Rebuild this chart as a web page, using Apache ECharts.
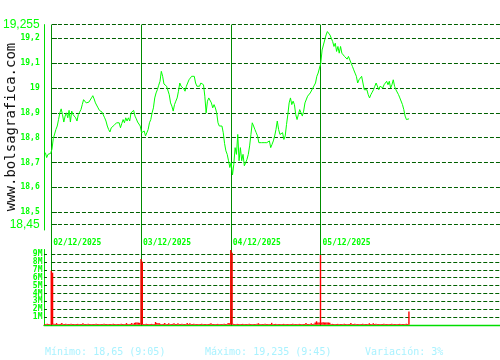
<!DOCTYPE html>
<html><head><meta charset="utf-8">
<script src="https://cdn.jsdelivr.net/npm/echarts@6/dist/echarts.min.js"></script>
<style>html,body{margin:0;padding:0;background:#fff}#c{width:500px;height:360px}</style>
</head><body><div id="c"></div>
<script>
// ---------- data ----------
const dates = ['02/12/2025', '03/12/2025', '04/12/2025', '05/12/2025'];
const SLOTS = 68; // intraday slots per session

const prePrice = [18.74, 18.72, 18.733, 18.737, 18.737];
const day1Price = [18.753, 18.796, 18.80, 18.833, 18.847, 18.873, 18.9, 18.916, 18.893, 18.863,
  18.887, 18.9, 18.88, 18.91, 18.863, 18.907, 18.893, 18.9, 18.88, 18.867,
  18.893, 18.903, 18.913, 18.933, 18.953, 18.96, 18.94, 18.947, 18.943, 18.95,
  18.96, 18.969, 18.956, 18.94, 18.94, 18.92, 18.91, 18.916, 18.903, 18.9,
  18.88, 18.867, 18.847, 18.833, 18.823, 18.84, 18.847, 18.849, 18.847, 18.86,
  18.867, 18.86, 18.84, 18.857, 18.873, 18.86, 18.88, 18.867, 18.88, 18.867,
  18.9, 18.907, 18.91, 18.887, 18.876, 18.863, 18.867, 18.847];
const day2Price = [18.82, 18.813, 18.827, 18.807, 18.82, 18.833, 18.86, 18.873, 18.9, 18.92,
  18.96, 18.98, 18.993, 19.011, 19.027, 19.067, 19.047, 19.016, 19.011, 19.007,
  19.0, 18.973, 18.94, 18.927, 18.907, 18.933, 18.947, 18.96, 18.987, 19.02,
  19.007, 19.0, 18.997, 18.987, 19.007, 19.02, 19.033, 19.04, 19.047, 19.053,
  19.047, 19.02, 19.007, 19.013, 19.007, 19.02, 19.024, 19.013, 18.967, 18.9,
  18.947, 18.96, 18.967, 18.94, 18.92, 18.933, 18.92, 18.9, 18.86, 18.847,
  18.84, 18.847, 18.82, 18.776, 18.747, 18.733, 18.707, 18.68];
const day3Price = [18.70, 18.65, 18.693, 18.76, 18.733, 18.813, 18.707, 18.76, 18.707, 18.733,
  18.687, 18.7, 18.713, 18.733, 18.767, 18.813, 18.86, 18.847, 18.833, 18.82,
  18.807, 18.78, 18.773, 18.78, 18.776, 18.78, 18.777, 18.78, 18.784, 18.787,
  18.76, 18.773, 18.787, 18.807, 18.833, 18.867, 18.833, 18.813, 18.807, 18.82,
  18.793, 18.807, 18.853, 18.893, 18.94, 18.96, 18.933, 18.947, 18.933, 18.893,
  18.873, 18.893, 18.913, 18.9, 18.887, 18.907, 18.94, 18.947, 18.967, 18.973,
  18.98, 18.987, 19.0, 19.007, 19.02, 19.047, 19.06, 19.08];
const day4Price = [19.1, 19.153, 19.173, 19.193, 19.213, 19.227, 19.235, 19.213, 19.22, 19.187,
  19.167, 19.18, 19.147, 19.167, 19.14, 19.167, 19.14, 19.133, 19.127, 19.12,
  19.116, 19.127, 19.133, 19.1, 19.087, 19.073, 19.06, 19.047, 19.02, 19.033,
  19.04, 19.047, 19.02, 18.993, 18.991, 18.993, 18.973, 18.96, 18.973, 18.983,
  18.993, 19.007, 19.02, 19.013, 18.993, 19.007, 19.007, 19.0, 19.013, 19.02,
  19.027, 19.013, 19.027, 19.0, 19.013, 19.033, 19.007, 18.993, 18.987, 18.973,
  18.96, 18.953, 18.933, 18.913, 18.887, 18.873, 18.867, 18.876];

const preVol = [0.1, 0.1, 0.12, 0.1, 0.1];
const day1Vol = [6.9, 6.65, 0.12, 0.1, 0.22, 0.1, 0.1, 0.12, 0.22, 0.1,
  0.1, 0.12, 0.1, 0.1, 0.1, 0.12, 0.1, 0.1, 0.1, 0.1,
  0.12, 0.1, 0.1, 0.1, 0.2, 0.1, 0.1, 0.1, 0.12, 0.1,
  0.1, 0.1, 0.1, 0.1, 0.12, 0.1, 0.1, 0.1, 0.1, 0.1,
  0.12, 0.1, 0.1, 0.1, 0.1, 0.1, 0.1, 0.12, 0.1, 0.1,
  0.1, 0.1, 0.1, 0.12, 0.1, 0.1, 0.1, 0.22, 0.1, 0.1,
  0.12, 0.22, 0.1, 0.25, 0.28, 0.28, 0.28, 0.25];
const day2Vol = [8.4, 8.05, 0.1, 0.1, 0.12, 0.1, 0.1, 0.1, 0.12, 0.1,
  0.1, 0.35, 0.22, 0.2, 0.2, 0.1, 0.1, 0.12, 0.22, 0.1,
  0.1, 0.2, 0.1, 0.1, 0.12, 0.2, 0.1, 0.1, 0.2, 0.1,
  0.1, 0.12, 0.1, 0.1, 0.1, 0.22, 0.1, 0.2, 0.1, 0.1,
  0.12, 0.1, 0.1, 0.1, 0.1, 0.1, 0.12, 0.1, 0.1, 0.1,
  0.1, 0.1, 0.12, 0.2, 0.1, 0.1, 0.1, 0.1, 0.12, 0.1,
  0.1, 0.1, 0.1, 0.12, 0.1, 0.1, 0.22, 0.2];
const day3Vol = [9.55, 9.2, 0.12, 0.1, 0.1, 0.12, 0.1, 0.1, 0.1, 0.12,
  0.1, 0.1, 0.1, 0.1, 0.12, 0.1, 0.1, 0.1, 0.1, 0.1,
  0.12, 0.2, 0.1, 0.1, 0.1, 0.1, 0.12, 0.1, 0.1, 0.1,
  0.1, 0.25, 0.1, 0.1, 0.12, 0.1, 0.1, 0.1, 0.1, 0.1,
  0.12, 0.1, 0.1, 0.1, 0.1, 0.1, 0.1, 0.12, 0.1, 0.1,
  0.1, 0.1, 0.12, 0.1, 0.1, 0.1, 0.1, 0.22, 0.1, 0.1,
  0.1, 0.2, 0.1, 0.12, 0.3, 0.45, 0.3, 0.3];
const day4Vol = [8.9, 0.3, 0.32, 0.3, 0.3, 0.28, 0.3, 0.25, 0.1, 0.12,
  0.1, 0.1, 0.1, 0.12, 0.1, 0.1, 0.1, 0.1, 0.12, 0.1,
  0.1, 0.1, 0.1, 0.22, 0.1, 0.1, 0.12, 0.1, 0.1, 0.1,
  0.1, 0.1, 0.12, 0.1, 0.1, 0.1, 0.1, 0.2, 0.1, 0.1,
  0.2, 0.1, 0.12, 0.1, 0.1, 0.1, 0.1, 0.1, 0.12, 0.1,
  0.1, 0.1, 0.1, 0.1, 0.12, 0.1, 0.1, 0.1, 0.1, 0.1,
  0.12, 0.1, 0.1, 0.1, 0.1, 0.12, 0.1, 1.7];

const priceTicks = [18.45, 18.5, 18.6, 18.7, 18.8, 18.9, 19.0, 19.1, 19.2, 19.255];
const volTicks = [1, 2, 3, 4, 5, 6, 7, 8, 9];

const minText = 'Mínimo: 18,65 (9:05)';
const maxText = 'Máximo: 19,235 (9:45)';
const varText = 'Variación: 3%';
const watermark = 'www.bolsagrafica.com';

// ---------- build ----------
const priceDays = [day1Price, day2Price, day3Price, day4Price];
const volDays = [day1Vol, day2Vol, day3Vol, day4Vol];
const priceData = prePrice.map((v, i) => [i - prePrice.length, v]);
priceDays.forEach((arr, d) => arr.forEach((v, i) => priceData.push([d * SLOTS + i, v])));
const volData = preVol.map((v, i) => [i - preVol.length, v]);
volDays.forEach((arr, d) => arr.forEach((v, i) => volData.push([d * SLOTS + i, v])));
const dayStarts = dates.map((_, d) => d * SLOTS);
const X_MIN = -5.5, X_MAX = 5 * SLOTS;

const GREEN = '#00ff00', AXIS = '#00dd00', DASH = '#006000', DAYLINE = '#008c00';
const pMin = priceTicks[0], pMax = priceTicks[priceTicks.length - 1];
const fmtNum = v => String(v).replace('.', ',');

const chart = echarts.init(document.getElementById('c'), null, {renderer: 'canvas'});
chart.setOption({
  animation: false,
  backgroundColor: '#ffffff',
  grid: [
    {left: 44, right: 0, top: 24.6, bottom: 135.3},
    {left: 44, right: 0, top: 249.5, bottom: 35.2},
    {left: 44, right: 0, top: 24.6, bottom: 34.5},
    {left: 44, right: 0, top: 24.6, bottom: 130}
  ],
  xAxis: [
    {type: 'value', gridIndex: 0, min: X_MIN, max: X_MAX, show: false},
    {type: 'value', gridIndex: 1, min: X_MIN, max: X_MAX, position: 'bottom',
      axisLine: {show: true, onZero: false, lineStyle: {color: AXIS, width: 1.3}},
      axisTick: {show: false}, axisLabel: {show: false}, splitLine: {show: false}},
    {type: 'value', gridIndex: 1, min: X_MIN, max: X_MAX, position: 'top',
      axisLine: {show: false}, axisTick: {show: false}, splitLine: {show: false},
      axisLabel: {show: true, customValues: dayStarts, align: 'left', margin: 3,
        padding: [0, 0, 0, 2],
        color: GREEN, fontFamily: 'DejaVu Sans Mono', fontWeight: 'bold', fontSize: 8,
        formatter: v => dates[Math.round(v / SLOTS)] || ''}},
    {type: 'value', gridIndex: 2, min: X_MIN, max: X_MAX, show: false},
    {type: 'value', gridIndex: 3, min: X_MIN, max: X_MAX, show: false}
  ],
  yAxis: [
    {type: 'value', gridIndex: 0, min: pMin, max: pMax,
      axisLine: {show: false},
      axisTick: {show: true, inside: true, length: 5, customValues: priceTicks, lineStyle: {color: DASH}},
      splitLine: {show: false},
      axisLabel: {show: true, customValues: priceTicks, margin: 5,
        formatter: v => (v === pMin || v === pMax) ? '{big|' + fmtNum(v) + '}' : '{sm|' + fmtNum(v) + '}',
        rich: {
          big: {fontFamily: 'Liberation Sans', fontSize: 12, color: GREEN},
          sm: {fontFamily: 'DejaVu Sans Mono', fontSize: 8, fontWeight: 'bold', color: GREEN}
        }}},
    {type: 'value', gridIndex: 1, min: 0, max: 9.6,
      axisLine: {show: true, onZero: false, lineStyle: {color: AXIS, width: 1}},
      axisTick: {show: true, inside: true, length: 3, customValues: volTicks, lineStyle: {color: DASH}},
      splitLine: {show: false},
      axisLabel: {show: true, customValues: volTicks, margin: 1.5,
        color: GREEN, fontFamily: 'DejaVu Sans Mono', fontWeight: 'bold', fontSize: 8,
        formatter: v => v + 'M'}},
    {type: 'value', gridIndex: 2, min: 0, max: 1, show: false},
    {type: 'value', gridIndex: 3, min: 0, max: 1,
      axisLine: {show: true, onZero: false, lineStyle: {color: AXIS, width: 1}},
      axisTick: {show: false}, axisLabel: {show: false}, splitLine: {show: false}}
  ],
  series: [
    {type: 'line', name: 'dias', xAxisIndex: 3, yAxisIndex: 2, data: [], silent: true, z: 1,
      markLine: {silent: true, symbol: ['none', 'none'], label: {show: false}, z: 1,
        lineStyle: {color: DAYLINE, type: 'solid', width: 1},
        data: dayStarts.map(s => ({xAxis: s}))}},
    {type: 'line', name: 'eje', xAxisIndex: 4, yAxisIndex: 3, data: [], silent: true},
    {type: 'bar', name: 'volumen', xAxisIndex: 1, yAxisIndex: 1, data: volData, z: 4,
      barWidth: 1.4, itemStyle: {color: '#ff0000'}, silent: true,
      markLine: {silent: true, symbol: ['none', 'none'], label: {show: false}, z: 2,
        lineStyle: {color: DASH, type: [4, 2], width: 1},
        data: volTicks.map(v => [{coord: [0, v]}, {coord: [X_MAX, v]}])}},
    {type: 'line', name: 'precio', xAxisIndex: 0, yAxisIndex: 0, data: priceData,
      showSymbol: false, symbol: 'none', lineStyle: {color: GREEN, width: 1}, silent: true,
      z: 5,
      markLine: {silent: true, symbol: ['none', 'none'], label: {show: false}, z: 2,
        lineStyle: {color: DASH, type: [4, 2], width: 1},
        data: priceTicks.map(v => [{coord: [0, v]}, {coord: [X_MAX, v]}])}}
  ],
  graphic: [
    {type: 'text', x: 11, y: 127, rotation: Math.PI / 2,
      style: {text: watermark, fill: '#111111', font: '14px "DejaVu Sans Mono"', align: 'center', verticalAlign: 'middle'}},
    {type: 'text', x: 45, y: 352,
      style: {text: minText, fill: '#aaf2ff', font: '10px "DejaVu Sans Mono"', verticalAlign: 'middle'}},
    {type: 'text', x: 205, y: 352,
      style: {text: maxText, fill: '#aaf2ff', font: '10px "DejaVu Sans Mono"', verticalAlign: 'middle'}},
    {type: 'text', x: 365, y: 352,
      style: {text: varText, fill: '#aaf2ff', font: '10px "DejaVu Sans Mono"', verticalAlign: 'middle'}}
  ]
});
</script>
</body></html>
